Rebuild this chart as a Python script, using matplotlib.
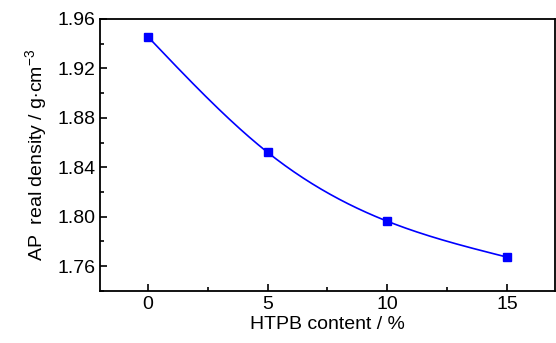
import numpy as np
import matplotlib
matplotlib.use('Agg')
import matplotlib.pyplot as plt
from matplotlib.ticker import MultipleLocator

plt.rcParams['font.family'] = ['Liberation Sans', 'DejaVu Sans']
plt.rcParams['mathtext.fontset'] = 'custom'
plt.rcParams['mathtext.rm'] = 'Liberation Sans'
plt.rcParams['mathtext.it'] = 'Liberation Sans'

htpb = [0, 5, 10, 15]  # HTPB content, %
density = [1.9455, 1.852, 1.7963, 1.7673]  # AP real density, g/cm3


def natural_spline(x, y, n=200):
    # smooth line through the points (natural cubic spline)
    x = np.asarray(x, float); y = np.asarray(y, float)
    k = len(x)
    h = np.diff(x)
    A = np.zeros((k, k)); b = np.zeros(k)
    A[0, 0] = A[-1, -1] = 1
    for i in range(1, k - 1):
        A[i, i - 1] = h[i - 1]; A[i, i] = 2 * (h[i - 1] + h[i]); A[i, i + 1] = h[i]
        b[i] = 6 * ((y[i + 1] - y[i]) / h[i] - (y[i] - y[i - 1]) / h[i - 1])
    M = np.linalg.solve(A, b)
    xs = np.linspace(x[0], x[-1], n)
    idx = np.clip(np.searchsorted(x, xs) - 1, 0, k - 2)
    x0, x1 = x[idx], x[idx + 1]; hh = x1 - x0
    ys = (M[idx] * (x1 - xs) ** 3 + M[idx + 1] * (xs - x0) ** 3) / (6 * hh) \
        + (y[idx] / hh - M[idx] * hh / 6) * (x1 - xs) \
        + (y[idx + 1] / hh - M[idx + 1] * hh / 6) * (xs - x0)
    return xs, ys


fig = plt.figure(figsize=(5.56, 3.43), dpi=100)
ax = fig.add_axes([0.18, 0.152, 0.818, 0.793])

xs, ys = natural_spline(htpb, density)
ax.plot(xs, ys, color='#0000ff', lw=1.2)
ax.plot(htpb, density, 's', color='#0000ff', ms=6)

ax.set_xlim(-2, 17)
ax.set_ylim(1.74, 1.96)
ax.xaxis.set_major_locator(MultipleLocator(5))
ax.xaxis.set_minor_locator(MultipleLocator(2.5))
ax.yaxis.set_major_locator(MultipleLocator(0.04))
ax.yaxis.set_minor_locator(MultipleLocator(0.02))
ax.yaxis.set_major_formatter(lambda v, p: f'{v:.2f}')
ax.tick_params(which='both', direction='in', top=False, right=False, labelsize=14, width=1.2)
ax.tick_params(which='major', length=5)
ax.tick_params(which='minor', length=3)
for s in ax.spines.values():
    s.set_linewidth(1.3)

ax.set_xlabel('HTPB content / %', fontsize=14, labelpad=2)
ax.set_ylabel(r'AP  real density / g$\cdot$cm$^{-3}$', fontsize=14, labelpad=6)

fig.savefig('out.png', dpi=100)
